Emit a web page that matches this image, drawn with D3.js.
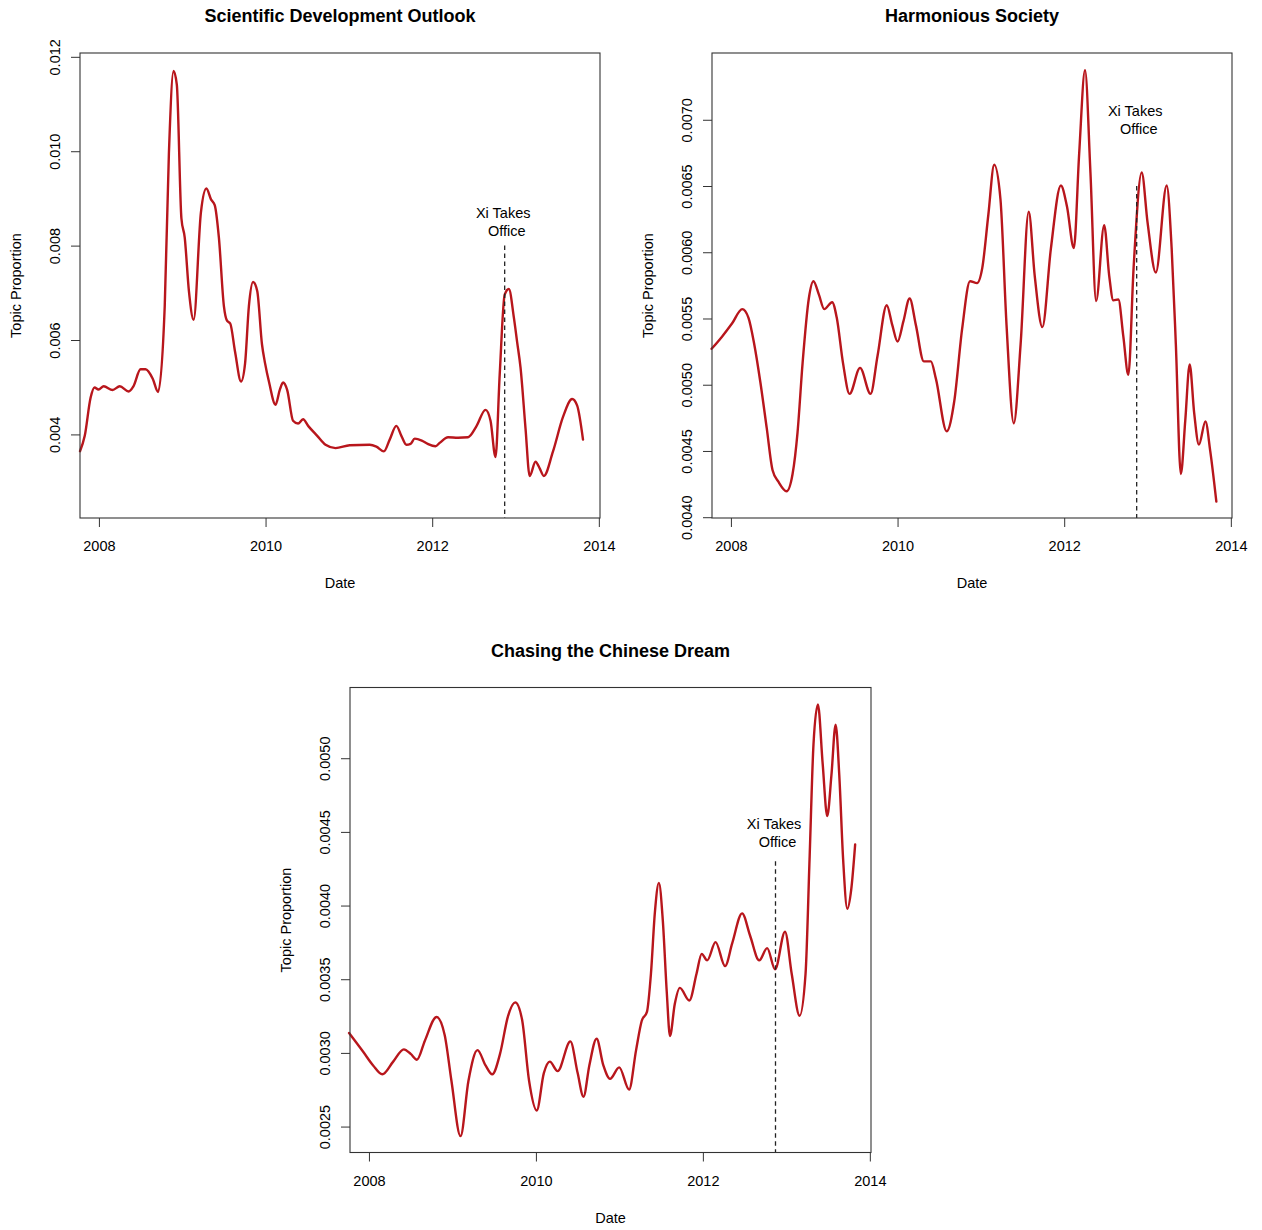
<!DOCTYPE html>
<html>
<head>
<meta charset="utf-8">
<script src="https://cdn.jsdelivr.net/npm/d3@7"></script>
<style>
  html, body { margin: 0; padding: 0; background: #fff; }
  svg { display: block; }
  text { font-family: "Liberation Sans", Arial, Helvetica, sans-serif; fill: #000; }
</style>
</head>
<body>
<svg id="chart" width="1262" height="1230"></svg>
<script>
// ---------------- DATA ----------------
const panelTitles = ["Scientific Development Outlook", "Harmonious Society", "Chasing the Chinese Dream"];
const xTickYears = [2008, 2010, 2012, 2014];
const xDomain = [2007.773, 2014.014];
const xiTakesOfficeYear = 2012.87;

// Scientific Development Outlook
const sdoYears = [2007.773, 2007.83, 2007.90, 2007.947, 2007.995, 2008.058, 2008.164, 2008.25, 2008.357, 2008.414,
  2008.50, 2008.56, 2008.646, 2008.71, 2008.79, 2008.84, 2008.896, 2008.935, 2008.99, 2009.03,
  2009.08, 2009.137, 2009.224, 2009.29, 2009.345, 2009.39, 2009.44, 2009.50, 2009.537, 2009.576,
  2009.634, 2009.706, 2009.754, 2009.80, 2009.85, 2009.90, 2009.957, 2009.995, 2010.043, 2010.12,
  2010.17, 2010.21, 2010.26, 2010.33, 2010.39, 2010.45, 2010.516, 2010.62, 2010.72, 2010.84,
  2011.01, 2011.25, 2011.33, 2011.42, 2011.49, 2011.57, 2011.63, 2011.69, 2011.74, 2011.79,
  2011.875, 2011.947, 2012.04, 2012.09, 2012.19, 2012.31, 2012.43, 2012.53, 2012.64, 2012.70,
  2012.76, 2012.81, 2012.87, 2012.92, 2012.98, 2013.02, 2013.06, 2013.12, 2013.17, 2013.24,
  2013.29, 2013.34, 2013.45, 2013.57, 2013.68, 2013.74, 2013.81];
const sdoValues = [0.003644, 0.00397, 0.004777, 0.004995, 0.00495, 0.00502, 0.00494, 0.00502, 0.00491, 0.00502,
  0.00538, 0.00538, 0.00518, 0.0049, 0.00672, 0.00995, 0.0117, 0.01141, 0.00858, 0.00817,
  0.00704, 0.00643, 0.0087, 0.00921, 0.00898, 0.00886, 0.00817, 0.00672, 0.00641, 0.00635,
  0.00575, 0.00512, 0.0055, 0.00672, 0.00723, 0.00704, 0.00591, 0.0055, 0.0051, 0.00463,
  0.00494, 0.0051, 0.00494, 0.00429, 0.00423, 0.00432, 0.00417, 0.00397, 0.00378, 0.00371,
  0.00377, 0.00378, 0.00374, 0.00364, 0.00389, 0.00418, 0.00397, 0.00378, 0.0038, 0.00391,
  0.00387, 0.0038, 0.00375, 0.00382, 0.00394, 0.00393, 0.00394, 0.00417, 0.00452, 0.00429,
  0.00352, 0.00526, 0.00696, 0.00708, 0.00648, 0.00595, 0.00542, 0.00413, 0.00312, 0.00342,
  0.00328, 0.00312, 0.00364, 0.00437, 0.00475, 0.00461, 0.00389];

// Harmonious Society
const hsYears = [2007.768, 2007.893, 2008.015, 2008.136, 2008.21, 2008.28, 2008.354, 2008.43, 2008.50, 2008.57,
  2008.668, 2008.74, 2008.80, 2008.86, 2008.935, 2008.99, 2009.056, 2009.12, 2009.215, 2009.27,
  2009.346, 2009.424, 2009.55, 2009.676, 2009.76, 2009.87, 2009.937, 2010.0, 2010.07, 2010.145,
  2010.22, 2010.315, 2010.40, 2010.46, 2010.59, 2010.68, 2010.775, 2010.87, 2010.954, 2011.017,
  2011.09, 2011.16, 2011.235, 2011.308, 2011.395, 2011.477, 2011.574, 2011.646, 2011.738, 2011.84,
  2011.96, 2012.034, 2012.116, 2012.18, 2012.25, 2012.315, 2012.383, 2012.48, 2012.54, 2012.59,
  2012.65, 2012.71, 2012.77, 2012.833, 2012.93, 2013.0, 2013.10, 2013.23, 2013.29, 2013.34,
  2013.40, 2013.453, 2013.506, 2013.56, 2013.617, 2013.695, 2013.753, 2013.826];
const hsValues = [0.005271, 0.005363, 0.005464, 0.005571, 0.005507, 0.005306, 0.005017, 0.004672, 0.004354, 0.004268,
  0.004196, 0.004326, 0.004643, 0.005161, 0.005651, 0.005781, 0.00568, 0.005571, 0.005623, 0.005507,
  0.005161, 0.004931, 0.005127, 0.004931, 0.005219, 0.0056, 0.00545, 0.005326, 0.005478, 0.005651,
  0.00545, 0.005176, 0.005176, 0.005046, 0.004648, 0.004873, 0.005421, 0.005781, 0.005767, 0.005882,
  0.006285, 0.00666, 0.0064, 0.00545, 0.004709, 0.005306, 0.006306, 0.005824, 0.005435, 0.006026,
  0.006504, 0.006343, 0.006032, 0.006747, 0.007375, 0.006602, 0.005631, 0.006205, 0.005824, 0.005637,
  0.005643, 0.005363, 0.005075, 0.005882, 0.006602, 0.006228, 0.005847, 0.006504, 0.006026, 0.005306,
  0.004326, 0.004729, 0.005153, 0.004787, 0.004548, 0.004723, 0.004499, 0.004118];

// Chasing the Chinese Dream
const cdYears = [2007.762, 2007.933, 2008.05, 2008.16, 2008.29, 2008.418, 2008.50, 2008.575, 2008.67, 2008.81,
  2008.907, 2008.988, 2009.097, 2009.192, 2009.30, 2009.397, 2009.477, 2009.57, 2009.667, 2009.753,
  2009.834, 2009.918, 2010.01, 2010.095, 2010.166, 2010.26, 2010.413, 2010.50, 2010.57, 2010.64,
  2010.727, 2010.808, 2010.888, 2010.998, 2011.116, 2011.20, 2011.268, 2011.33, 2011.378, 2011.425,
  2011.473, 2011.52, 2011.568, 2011.606, 2011.663, 2011.724, 2011.838, 2011.924, 2011.986, 2012.052,
  2012.152, 2012.266, 2012.352, 2012.47, 2012.565, 2012.675, 2012.77, 2012.865, 2012.984, 2013.064,
  2013.159, 2013.23, 2013.278, 2013.325, 2013.378, 2013.435, 2013.49, 2013.54, 2013.59, 2013.634,
  2013.68, 2013.73, 2013.777, 2013.824];
const cdValues = [0.003135, 0.003006, 0.002915, 0.002855, 0.002941, 0.003024, 0.002993, 0.002954, 0.003083, 0.003244,
  0.003122, 0.002811, 0.002435, 0.002811, 0.003019, 0.002915, 0.002855, 0.002993, 0.003252, 0.003343,
  0.003226, 0.002811, 0.002609, 0.002863, 0.002941, 0.002876, 0.003078, 0.002863, 0.002702, 0.002915,
  0.003096, 0.002915, 0.002824, 0.002902, 0.002751, 0.003019, 0.003218, 0.003278, 0.003537, 0.003952,
  0.004154, 0.0039, 0.003408, 0.003115, 0.00333, 0.003441, 0.003356, 0.003537, 0.003672, 0.003628,
  0.003752, 0.003589, 0.003745, 0.003947, 0.003797, 0.003628, 0.003711, 0.003568, 0.003822, 0.003537,
  0.003252, 0.003537, 0.004315, 0.005093, 0.005365, 0.004963, 0.004608, 0.004885, 0.005228, 0.004885,
  0.004315, 0.003978, 0.004108, 0.004414];

const sdoTicks = [0.004, 0.006, 0.008, 0.010, 0.012];
const hsTicks = [0.0040, 0.0045, 0.0050, 0.0055, 0.0060, 0.0065, 0.0070];
const cdTicks = [0.0025, 0.0030, 0.0035, 0.0040, 0.0045, 0.0050];

const yDomains = [[0.002229, 0.012081], [0.003994, 0.007504], [0.002324, 0.00548]];
const xiLineTops = [0.008, 0.0065, 0.0043];
const xiLabelCenters = [0.00849, 0.0070, 0.00449];

// ---------------- LAYOUT ----------------
const panels = [
  { title: panelTitles[0], years: sdoYears, values: sdoValues, ticks: sdoTicks, fmt: ".3f",
    yDomain: yDomains[0], lineTop: xiLineTops[0], labelY: xiLabelCenters[0],
    box: { left: 80, right: 600, top: 53, bottom: 518 } },
  { title: panelTitles[1], years: hsYears, values: hsValues, ticks: hsTicks, fmt: ".4f",
    yDomain: yDomains[1], lineTop: xiLineTops[1], labelY: xiLabelCenters[1],
    box: { left: 712, right: 1232, top: 53, bottom: 518 } },
  { title: panelTitles[2], years: cdYears, values: cdValues, ticks: cdTicks, fmt: ".4f",
    yDomain: yDomains[2], lineTop: xiLineTops[2], labelY: xiLabelCenters[2],
    box: { left: 350, right: 871, top: 687.5, bottom: 1152.5 } }
];

const svg = d3.select("#chart");
const FS = 14.5;
const RED = "#B8161C";
const AXIS = "#333";

panels.forEach(p => {
  const b = p.box;
  const x = d3.scaleLinear().domain(xDomain).range([b.left, b.right]);
  const y = d3.scaleLinear().domain(p.yDomain).range([b.bottom, b.top]);
  const g = svg.append("g");

  // Title
  g.append("text")
    .attr("x", (b.left + b.right) / 2)
    .attr("y", b.top - 31)
    .attr("text-anchor", "middle")
    .style("font-size", "18px")
    .style("font-weight", "bold")
    .text(p.title);

  // X axis
  const xAxis = d3.axisBottom(x)
    .tickValues(xTickYears)
    .tickFormat(d3.format("d"))
    .tickSize(9)
    .tickSizeOuter(0)
    .tickPadding(14.2);
  const gx = g.append("g").attr("transform", `translate(0,${b.bottom})`).call(xAxis);
  gx.select(".domain").remove();
  gx.selectAll(".tick line").attr("stroke", AXIS);
  gx.selectAll(".tick text").style("font-size", FS + "px").attr("fill", "#000")
    .style("font-family", '"Liberation Sans", Arial, sans-serif');

  // Y axis
  const yAxis = d3.axisLeft(y)
    .tickValues(p.ticks)
    .tickFormat(d3.format(p.fmt))
    .tickSize(9)
    .tickSizeOuter(0);
  const gy = g.append("g").attr("transform", `translate(${b.left},0)`).call(yAxis);
  gy.select(".domain").remove();
  gy.selectAll(".tick line").attr("stroke", AXIS);
  gy.selectAll(".tick text")
    .attr("x", null).attr("dy", null)
    .attr("transform", "translate(-20.5,0) rotate(-90)")
    .attr("text-anchor", "middle")
    .attr("fill", "#000")
    .style("font-size", FS + "px")
    .style("font-family", '"Liberation Sans", Arial, sans-serif');

  // Axis titles
  g.append("text")
    .attr("x", (b.left + b.right) / 2)
    .attr("y", b.bottom + 70)
    .attr("text-anchor", "middle")
    .style("font-size", FS + "px")
    .text("Date");
  g.append("text")
    .attr("transform", `translate(${b.left - 59},${(b.top + b.bottom) / 2}) rotate(-90)`)
    .attr("text-anchor", "middle")
    .style("font-size", FS + "px")
    .text("Topic Proportion");

  // Series line
  const pts = p.years.map((yr, i) => [yr, p.values[i]]);
  const line = d3.line()
    .x(d => x(d[0]))
    .y(d => y(d[1]))
    .curve(d3.curveMonotoneX);
  g.append("path")
    .datum(pts)
    .attr("d", line)
    .attr("fill", "none")
    .attr("stroke", RED)
    .attr("stroke-width", 2.4)
    .attr("stroke-linejoin", "round")
    .attr("stroke-linecap", "round");

  // Xi takes office marker
  const xi = x(xiTakesOfficeYear);
  g.append("line")
    .attr("x1", xi).attr("x2", xi)
    .attr("y1", y(p.lineTop)).attr("y2", b.bottom)
    .attr("stroke", "#222")
    .attr("stroke-width", 1.3)
    .attr("stroke-dasharray", "4.5,3.5");
  const ly = y(p.labelY);
  g.append("text").attr("x", xi - 1.5).attr("y", ly - 4)
    .attr("text-anchor", "middle").style("font-size", FS + "px").text("Xi Takes");
  g.append("text").attr("x", xi + 2).attr("y", ly + 14)
    .attr("text-anchor", "middle").style("font-size", FS + "px").text("Office");

  // Box
  g.append("rect")
    .attr("x", b.left).attr("y", b.top)
    .attr("width", b.right - b.left).attr("height", b.bottom - b.top)
    .attr("fill", "none")
    .attr("stroke", AXIS)
    .attr("stroke-width", 1.1);
});
</script>
</body>
</html>
